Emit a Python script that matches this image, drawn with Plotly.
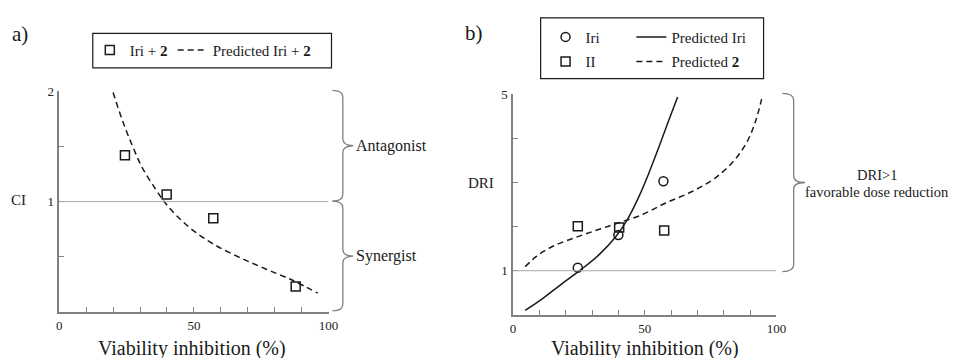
import plotly.graph_objects as go

W, H = 961, 358
FONT = "Liberation Serif"
INK = "#1a1a1a"
AXIS = "#808080"
REF = "#a8a8a8"

# ---------------- data: panel a (CI) ----------------
a_obs_x = [24.4, 39.9, 57.2, 87.8]
a_obs_ci = [1.42, 1.065, 0.85, 0.23]
a_pred_x = [20.0, 23.4, 27.1, 31.0, 35.6, 39.3, 44.1, 50.2, 57.6, 67.3, 77.1, 86.8, 96.0]
a_pred_ci = [1.99, 1.74, 1.51, 1.30, 1.12, 0.99, 0.86, 0.73, 0.61, 0.49, 0.385, 0.285, 0.17]

# ---------------- data: panel b (DRI) ----------------
b_iri_x = [24.6, 40.0, 57.1]
b_iri_dri = [1.07, 1.81, 3.03]
b_ii_x = [24.6, 40.3, 57.4, 85.9]
b_ii_dri = [2.01, 1.98, 1.91, 5.01]
b_pred_iri_x = [4.6, 11.5, 17.8, 25.9, 32.8, 39.0, 43.4, 47.8, 51.5, 55.3, 59.0, 62.5]
b_pred_iri_dri = [0.10, 0.38, 0.67, 1.03, 1.37, 1.77, 2.16, 2.68, 3.20, 3.79, 4.39, 4.94]
b_pred_2_x = [4.6, 9.0, 15.3, 24.0, 32.8, 40.3, 49.0, 57.8, 67.8, 76.5, 84.0, 89.0, 92.1, 94.4]
b_pred_2_dri = [1.09, 1.33, 1.56, 1.76, 1.94, 2.09, 2.27, 2.53, 2.79, 3.09, 3.50, 3.94, 4.39, 4.89]

x_tickvals = [0, 10, 20, 30, 40, 50, 60, 70, 80, 90, 100]
x_ticktext = ["0", "", "", "", "", "50", "", "", "", "", "100"]
a_y_tickvals = [0, 0.5, 1, 1.5, 2]
a_y_ticktext = ["", "", "1", "", "2"]
b_y_tickvals = [0, 1, 2, 3, 4, 5]
b_y_ticktext = ["", "1", "", "", "", "5"]


def px(x):
    return x / W


def py(y):
    return 1 - y / H


fig = go.Figure()

mk = dict(color=INK, size=9, line=dict(color=INK, width=1.5))

fig.add_trace(go.Scatter(x=a_obs_x, y=a_obs_ci, mode="markers", name="Iri + <b>2</b>",
                         marker=dict(symbol="square-open", **mk), legend="legend",
                         cliponaxis=False, xaxis="x", yaxis="y"))
fig.add_trace(go.Scatter(x=a_pred_x, y=a_pred_ci, mode="lines", name="Predicted Iri + <b>2</b>",
                         line=dict(color=INK, width=1.5, dash="6px,4px", shape="spline"),
                         legend="legend2", xaxis="x", yaxis="y"))

fig.add_trace(go.Scatter(x=b_iri_x, y=b_iri_dri, mode="markers", name="Iri",
                         marker=dict(symbol="circle-open", **mk), legend="legend3", legendgroup="g1",
                         cliponaxis=False, xaxis="x2", yaxis="y2"))
fig.add_trace(go.Scatter(x=b_pred_iri_x, y=b_pred_iri_dri, mode="lines", name="Predicted Iri",
                         line=dict(color=INK, width=1.5, shape="spline"),
                         legend="legend4", legendgroup="g2", xaxis="x2", yaxis="y2"))
fig.add_trace(go.Scatter(x=b_ii_x, y=b_ii_dri, mode="markers", name="II",
                         marker=dict(symbol="square-open", **mk), legend="legend3", legendgroup="g3",
                         cliponaxis=False, xaxis="x2", yaxis="y2"))
fig.add_trace(go.Scatter(x=b_pred_2_x, y=b_pred_2_dri, mode="lines", name="Predicted <b>2</b>",
                         line=dict(color=INK, width=1.5, dash="6px,4px", shape="spline"),
                         legend="legend4", legendgroup="g4", xaxis="x2", yaxis="y2"))

axis_common = dict(showline=True, linecolor=AXIS, linewidth=1.5, ticks="inside", ticklen=5,
                   tickcolor=AXIS, tickwidth=1, showgrid=False, zeroline=False,
                   tickfont=dict(family=FONT, size=13, color="#222"), ticklabelstandoff=1,
                   fixedrange=True)

leg_common = dict(xanchor="left", yanchor="middle", bgcolor="rgba(0,0,0,0)",
                  borderwidth=0, font=dict(family=FONT, size=15, color=INK),
                  itemsizing="trace", tracegroupgap=2, traceorder="grouped")

fig.update_layout(
    width=W, height=H, margin=dict(l=0, r=0, t=0, b=0),
    paper_bgcolor="white", plot_bgcolor="white",
    font=dict(family=FONT, color=INK),
    showlegend=True,
    xaxis=dict(domain=[px(57), px(330)], range=[0, 100], tickvals=x_tickvals, ticktext=x_ticktext,
               anchor="y", **axis_common),
    yaxis=dict(domain=[py(311), py(86)], range=[0, 2], tickvals=a_y_tickvals, ticktext=a_y_ticktext,
               anchor="x", **axis_common),
    xaxis2=dict(domain=[px(517), px(784)], range=[0, 100], tickvals=x_tickvals, ticktext=x_ticktext,
                anchor="y2", **axis_common),
    yaxis2=dict(domain=[py(314), py(89)], range=[0, 5], tickvals=b_y_tickvals, ticktext=b_y_ticktext,
                anchor="x2", **axis_common),
    legend=dict(x=px(88), y=py(44), **leg_common),
    legend2=dict(x=px(172), y=py(44), **leg_common),
    legend3=dict(x=px(550), y=py(43), **leg_common),
    legend4=dict(x=px(637), y=py(43), **leg_common),
)

shapes = []
# reference lines at 1
shapes.append(dict(type="line", xref="x", yref="y", x0=0, x1=100, y0=1, y1=1,
                   line=dict(color=REF, width=1)))
shapes.append(dict(type="line", xref="x2", yref="y2", x0=0, x1=100, y0=1, y1=1,
                   line=dict(color=REF, width=1)))
# legend boxes
shapes.append(dict(type="rect", xref="paper", yref="paper", x0=px(91), x1=px(333), y0=py(62), y1=py(27),
                   line=dict(color=INK, width=1.2)))
shapes.append(dict(type="rect", xref="paper", yref="paper", x0=px(545), x1=px(771), y0=py(73), y1=py(11),
                   line=dict(color=INK, width=1.2)))


def brace(xl, xt, yt, yb, r=7):
    xm = (xl + xt) / 2
    ym = (yt + yb) / 2
    pts = [
        ("M", [(xl, yt)]),
        ("Q", [(xm, yt), (xm, yt + r)]),
        ("L", [(xm, ym - r)]),
        ("Q", [(xm, ym), (xt, ym)]),
        ("Q", [(xm, ym), (xm, ym + r)]),
        ("L", [(xm, yb - r)]),
        ("Q", [(xm, yb), (xl, yb)]),
    ]
    s = ""
    for cmd, ps in pts:
        s += cmd + " " + " ".join(f"{px(a):.5f},{py(b):.5f}" for a, b in ps) + " "
    return dict(type="path", xref="paper", yref="paper", path=s.strip(),
                line=dict(color=AXIS, width=1.3))


shapes.append(brace(334, 355, 85, 198))
shapes.append(brace(334, 355, 198, 310))
shapes.append(brace(790, 813, 88, 270))
fig.update_layout(shapes=shapes)

ann = []


def text(x, y, s, size, xanchor="center", yanchor="middle"):
    ann.append(dict(x=px(x), y=py(y), xref="paper", yref="paper", text=s, showarrow=False,
                    xanchor=xanchor, yanchor=yanchor,
                    font=dict(family=FONT, size=size, color=INK)))


text(17, 28, "a)", 21)
text(477, 27, "b)", 21)
text(16, 197, "CI", 15)
text(485, 179, "DRI", 15)
text(356, 142, "Antagonist", 16, xanchor="left")
text(356, 254, "Synergist", 16, xanchor="left")
text(886, 171, "DRI>1", 14.5)
text(886, 189, "favorable dose reduction", 14.5)
text(192, 348, "Viability inhibition (%)", 20)
text(651, 348, "Viability inhibition (%)", 20)
fig.update_layout(annotations=ann)

fig.write_html("out.html")
